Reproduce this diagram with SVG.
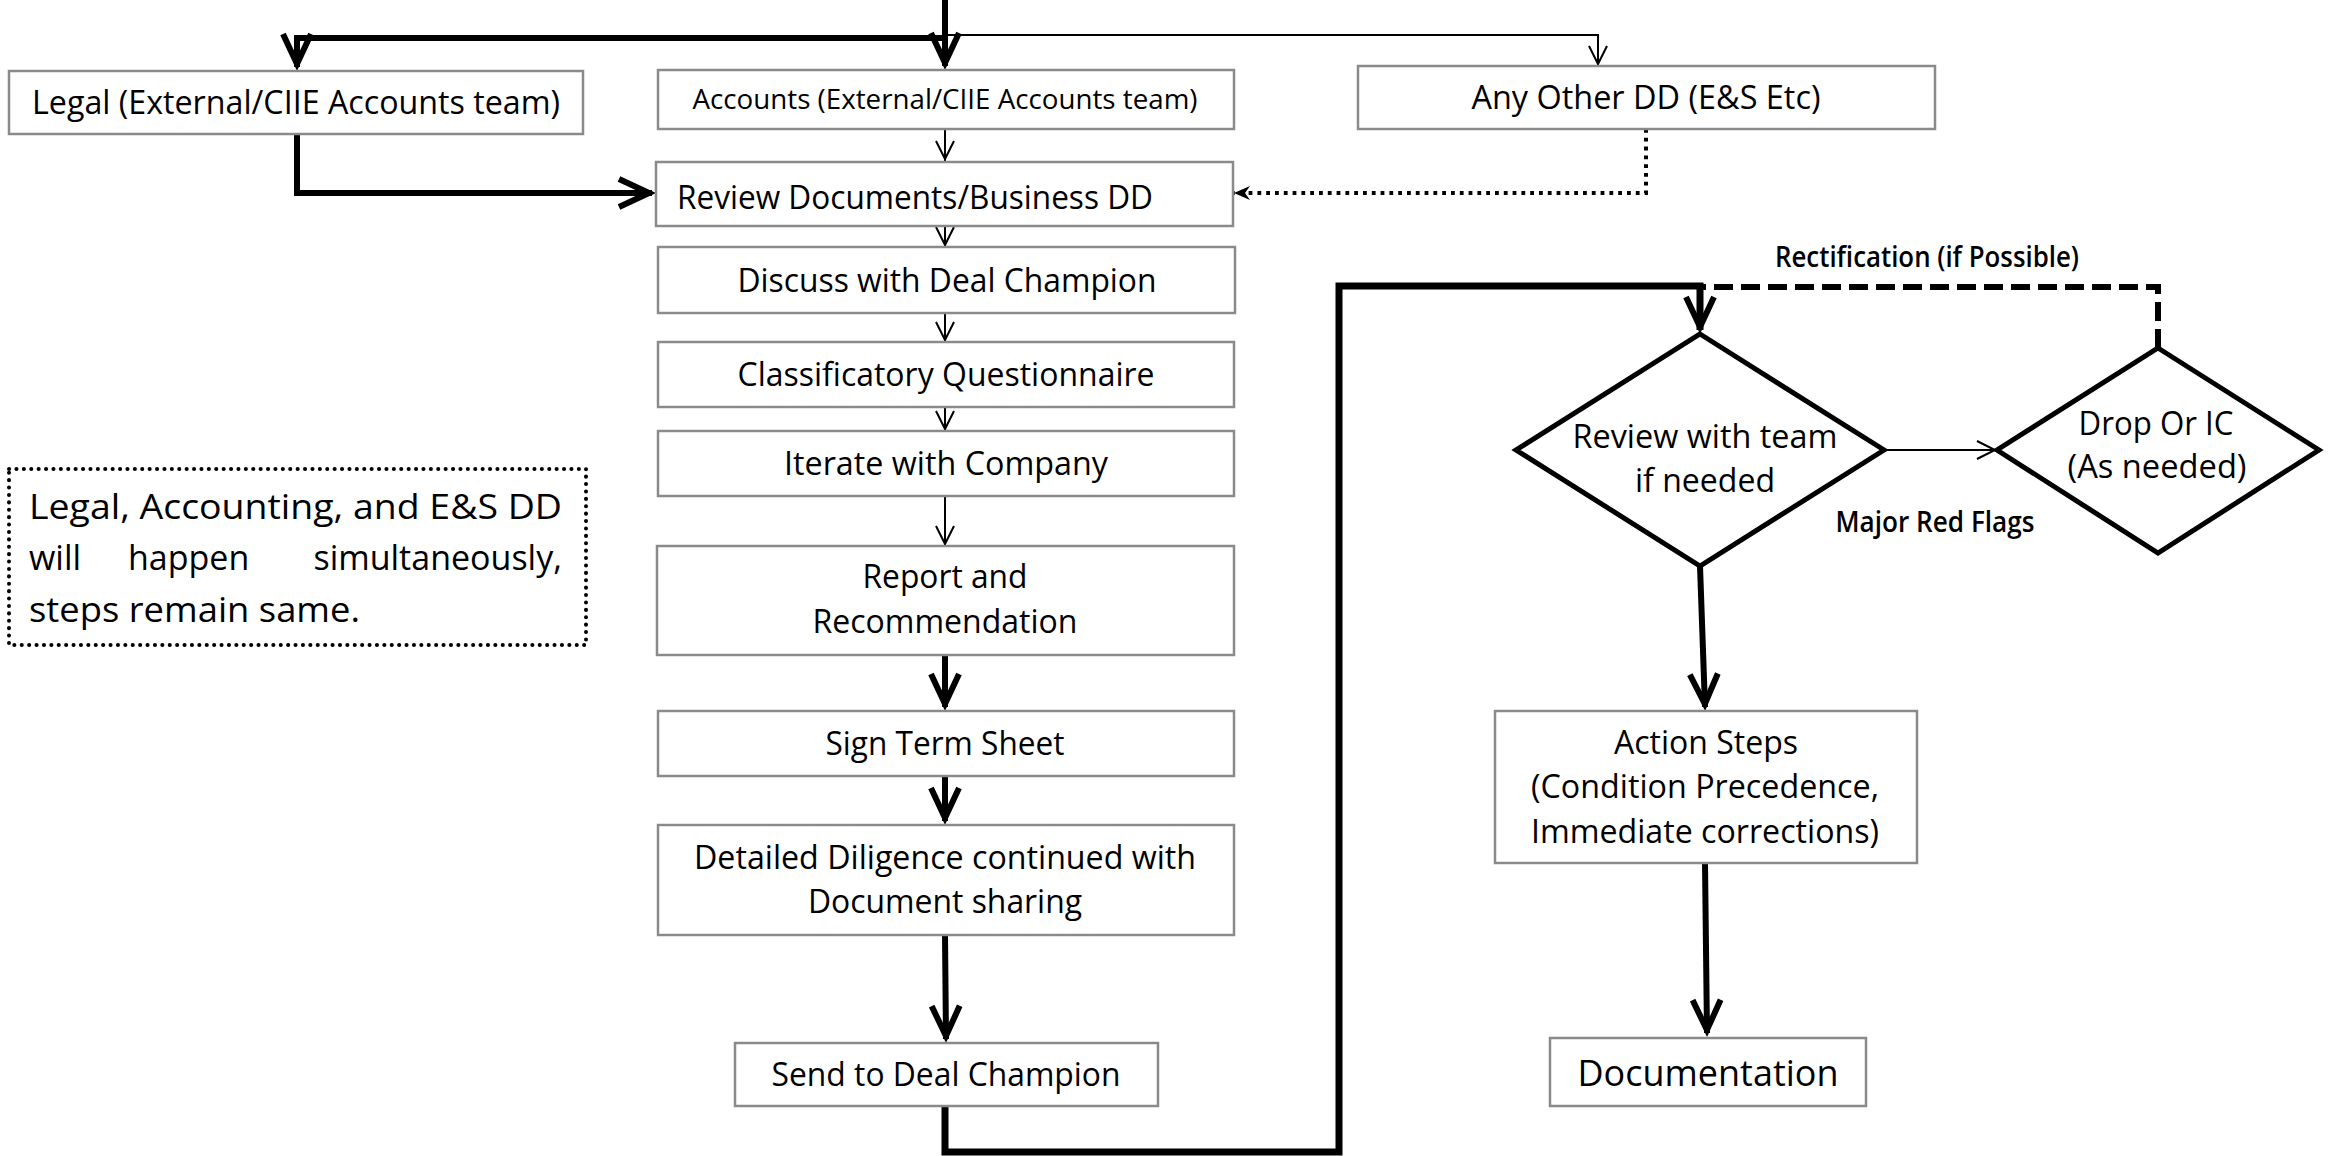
<svg xmlns="http://www.w3.org/2000/svg" width="2331" height="1156" viewBox="0 0 2331 1156">
<style>
text{font-family:"Open Sans","Noto Sans","DejaVu Sans",sans-serif;font-size:32px;fill:#000;}
.c{text-anchor:middle;}
.s28{font-size:28px;}
.s36{font-size:36px;}
.s34{font-size:34px;}
.lbl{font-size:28px;font-weight:600;text-anchor:middle;}
.box{fill:#fff;stroke:#8a8a8a;stroke-width:2.5;}
.dia{fill:#fff;stroke:#000;stroke-width:5;stroke-linejoin:miter;}
.note{fill:#fff;stroke:#000;stroke-width:4;stroke-linecap:round;stroke-dasharray:0.1 7.3;}
.thin{fill:none;stroke:#000;stroke-width:2;marker-end:url(#ah-thin);}
.thick{fill:none;stroke:#000;stroke-width:6;stroke-linejoin:miter;marker-end:url(#ah-thick);}
.route{fill:none;stroke:#000;stroke-width:7;stroke-linejoin:miter;marker-end:url(#ah-thick);}
.dotted{fill:none;stroke:#000;stroke-width:4;stroke-dasharray:3.8 5;marker-end:url(#ah-dot);}
.dashed{fill:none;stroke:#000;stroke-width:6;stroke-dasharray:19 8;}
</style>
<defs>
<marker id="ah-thin" viewBox="-24 -12 28 24" refX="0" refY="0" markerWidth="28" markerHeight="24" markerUnits="userSpaceOnUse" orient="auto" overflow="visible">
<path d="M-20,-9 L-2,0 L-20,9" fill="none" stroke="#000" stroke-width="2"/>
</marker>
<marker id="ah-thick" viewBox="-40 -20 44 40" refX="-4" refY="0" markerWidth="44" markerHeight="40" markerUnits="userSpaceOnUse" orient="auto" overflow="visible">
<path d="M-37,-14 L-7,0 L-37,14" fill="none" stroke="#000" stroke-width="6" stroke-linejoin="miter"/>
</marker>
<marker id="ah-dot" viewBox="-20 -10 24 20" refX="0" refY="0" markerWidth="24" markerHeight="20" markerUnits="userSpaceOnUse" orient="auto" overflow="visible">
<path d="M0,0 L-16,-7 L-11,0 L-16,7 Z" fill="#000"/>
</marker>
</defs>

<g id="connectors">
<path class="thick" d="M945,0 L945,66"/>
<path class="thick" d="M945,38 L297,38 L297,67"/>
<path class="thin" d="M945,35 L1598,35 L1598,66"/>
<path class="thin" d="M945,129 L945,161"/>
<path class="thick" d="M297,134 L297,193 L652,193"/>
<path class="dotted" d="M1646,129 L1646,193 L1234,193"/>
<path class="thin" d="M945,226 L945,247"/>
<path class="thin" d="M945,313 L945,342"/>
<path class="thin" d="M945,407 L945,431"/>
<path class="thin" d="M945,496 L945,546"/>
<path class="thick" d="M945,655 L945,707"/>
<path class="thick" d="M945,776 L945,821"/>
<path class="thick" d="M945,935 L946,1039"/>
<path class="route" d="M945,1106 L945,1152 L1339,1152 L1339,286 L1700,286 L1700,330"/>
<path class="dashed" d="M2158,348 L2158,287 L1702,287"/>
<path class="thin" d="M1884,450 L1997,450"/>
<path class="thick" d="M1700,566 L1705,707"/>
<path class="thick" d="M1705,863 L1707,1033"/>
<text class="lbl" x="1927" y="267" textLength="304" lengthAdjust="spacingAndGlyphs">Rectification (if Possible)</text>
<text class="lbl" x="1935" y="532" textLength="199" lengthAdjust="spacingAndGlyphs">Major Red Flags</text>
</g>

<g id="legal">
<rect class="box" x="9" y="71" width="574" height="63"/>
<text class="c" x="296" y="114" textLength="528" lengthAdjust="spacingAndGlyphs">Legal (External/CIIE Accounts team)</text>
</g>
<g id="accounts">
<rect class="box" x="658" y="70" width="576" height="59"/>
<text class="c s28" x="945" y="109" textLength="505" lengthAdjust="spacingAndGlyphs">Accounts (External/CIIE Accounts team)</text>
</g>
<g id="any-other-dd">
<rect class="box" x="1358" y="66" width="577" height="63"/>
<text class="c" x="1646" y="109" textLength="349" lengthAdjust="spacingAndGlyphs">Any Other DD (E&amp;S Etc)</text>
</g>
<g id="review-documents">
<rect class="box" x="656" y="162" width="577" height="64"/>
<text x="677" y="209" textLength="476" lengthAdjust="spacingAndGlyphs">Review Documents/Business DD</text>
</g>
<g id="discuss">
<rect class="box" x="658" y="247" width="577" height="66"/>
<text class="c" x="947" y="292" textLength="419" lengthAdjust="spacingAndGlyphs">Discuss with Deal Champion</text>
</g>
<g id="classificatory">
<rect class="box" x="658" y="342" width="576" height="65"/>
<text class="c" x="946" y="386" textLength="417" lengthAdjust="spacingAndGlyphs">Classificatory Questionnaire</text>
</g>
<g id="iterate">
<rect class="box" x="658" y="431" width="576" height="65"/>
<text class="c" x="946" y="475" textLength="324" lengthAdjust="spacingAndGlyphs">Iterate with Company</text>
</g>
<g id="report">
<rect class="box" x="657" y="546" width="577" height="109"/>
<text class="c" x="945" y="588" textLength="165" lengthAdjust="spacingAndGlyphs">Report and</text>
<text class="c" x="945" y="633" textLength="265" lengthAdjust="spacingAndGlyphs">Recommendation</text>
</g>
<g id="sign-term-sheet">
<rect class="box" x="658" y="711" width="576" height="65"/>
<text class="c" x="945" y="755" textLength="239" lengthAdjust="spacingAndGlyphs">Sign Term Sheet</text>
</g>
<g id="detailed-diligence">
<rect class="box" x="658" y="825" width="576" height="110"/>
<text class="c" x="945" y="869" textLength="502" lengthAdjust="spacingAndGlyphs">Detailed Diligence continued with</text>
<text class="c" x="945" y="913" textLength="274" lengthAdjust="spacingAndGlyphs">Document sharing</text>
</g>
<g id="send-to-deal-champion">
<rect class="box" x="735" y="1043" width="423" height="63"/>
<text class="c" x="946" y="1086" textLength="349" lengthAdjust="spacingAndGlyphs">Send to Deal Champion</text>
</g>
<g id="review-with-team">
<polygon class="dia" points="1700,334 1884,450 1700,566 1516,450"/>
<text class="c" x="1705" y="448" textLength="265" lengthAdjust="spacingAndGlyphs">Review with team</text>
<text class="c" x="1705" y="492" textLength="140" lengthAdjust="spacingAndGlyphs">if needed</text>
</g>
<g id="drop-or-ic">
<polygon class="dia" points="2158,348 2319,450 2158,553 1997,450"/>
<text class="c" x="2156" y="435" textLength="155" lengthAdjust="spacingAndGlyphs">Drop Or IC</text>
<text class="c" x="2157" y="478" textLength="179" lengthAdjust="spacingAndGlyphs">(As needed)</text>
</g>
<g id="action-steps">
<rect class="box" x="1495" y="711" width="422" height="152"/>
<text class="c" x="1706" y="754" textLength="184" lengthAdjust="spacingAndGlyphs">Action Steps</text>
<text class="c" x="1705" y="798" textLength="348" lengthAdjust="spacingAndGlyphs">(Condition Precedence,</text>
<text class="c" x="1705" y="843" textLength="348" lengthAdjust="spacingAndGlyphs">Immediate corrections)</text>
</g>
<g id="documentation">
<rect class="box" x="1550" y="1038" width="316" height="68"/>
<text class="c s36" x="1708" y="1086" textLength="261" lengthAdjust="spacingAndGlyphs">Documentation</text>
</g>
<g id="note">
<rect class="note" x="9" y="469" width="577" height="176"/>
<text class="s34" x="29" y="519" textLength="533" lengthAdjust="spacingAndGlyphs">Legal, Accounting, and E&amp;S DD</text>
<text class="s34" x="29" y="570">will</text>
<text class="s34" x="128" y="570">happen</text>
<text class="s34" x="562" y="570" text-anchor="end">simultaneously,</text>
<text class="s34" x="29" y="622" textLength="331" lengthAdjust="spacingAndGlyphs">steps remain same.</text>
</g>
</svg>
